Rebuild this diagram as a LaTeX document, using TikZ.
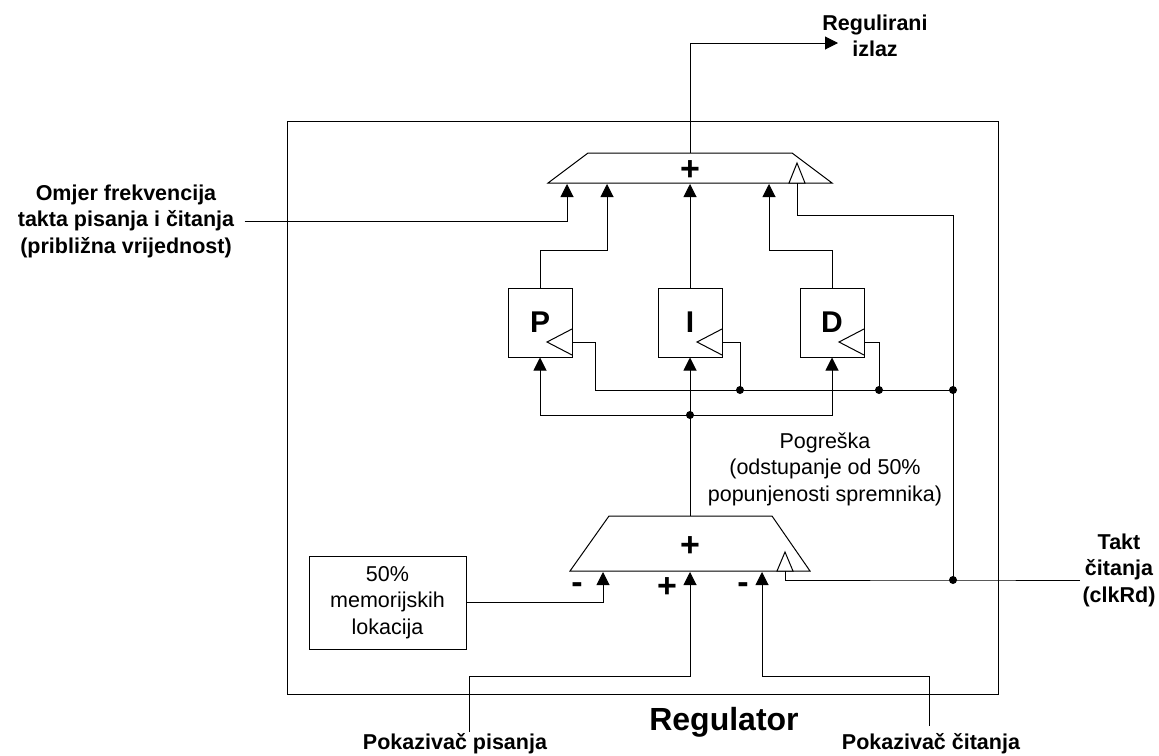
\documentclass[tikz,border=0pt]{standalone}
\usepackage{fontspec}
\setmainfont{Liberation Sans}
\usetikzlibrary{arrows.meta}
\tikzset{
  inarrow/.style={-{Triangle[length=13pt,width=13pt]}},
  regbox/.style={draw, minimum width=64pt, minimum height=69pt, inner sep=0pt,
    font=\fontsize{30}{30}\selectfont\bfseries},
  memobox/.style={draw, minimum width=157pt, minimum height=93pt, inner sep=0pt,
    align=center, font=\fontsize{21.5}{26.5}\selectfont},
  dot/.style={circle, fill, inner sep=0pt, minimum size=8pt},
  lbl/.style={align=center, inner sep=2pt, font=\fontsize{21.5}{26.5}\selectfont\bfseries},
  txt/.style={align=center, inner sep=2pt, font=\fontsize{21.5}{26.5}\selectfont},
  sign/.style={inner sep=0pt, font=\fontsize{34}{34}\selectfont\bfseries},
}
\begin{document}
\begin{tikzpicture}[x=1pt, y=-1pt, line width=1pt]
  \useasboundingbox (0,0) rectangle (1159,755);
  % frame
  \draw (287,121) rectangle (998,694);
  % adders
  \draw (548,183) -- (588,153) -- (792,153) -- (832,183) -- cycle;
  \draw[fill=white] (789,183) -- (797,163) -- (805,183) -- cycle;
  \draw (570,571) -- (609,516) -- (772,516) -- (810,571) -- cycle;
  \draw[fill=white] (777,571) -- (785,552) -- (793,571) -- cycle;
  \node[sign] (plusT) at (690,171) {+};
  \node[sign] (plusB) at (690,547) {+};
  \node[sign] (s1) at (577,588) {-};
  \node[sign] (s2) at (667,588) {+};
  \node[sign] (s3) at (743,588) {-};
  \coordinate (outT) at (690,153);
  \coordinate (inT1) at (567,184);
  \coordinate (inT2) at (607,184);
  \coordinate (inT3) at (690,184);
  \coordinate (inT4) at (769,184);
  \coordinate (ckT) at (797,183);
  \coordinate (outB) at (690,516);
  \coordinate (inB1) at (603,572);
  \coordinate (inB2) at (690,572);
  \coordinate (inB3) at (762,572);
  \coordinate (ckB) at (785,571);
  % P, I, D
  \node[regbox] (P) at (540,322.5) {P};
  \node[regbox] (I) at (690,322.5) {I};
  \node[regbox] (D) at (832,322.5) {D};
  \draw (572,329) -- (547,342) -- (572,355);
  \draw (722,329) -- (697,342) -- (722,355);
  \draw (864,329) -- (839,342) -- (864,355);
  \node[memobox] (mem) at (387.5,602.5) {50\%\\memorijskih\\lokacija};
  % junctions
  \node[dot] (jE) at (690,415) {};
  \node[dot] (jI) at (740,390) {};
  \node[dot] (jD) at (879,390) {};
  \node[dot] (jC) at (953,390) {};
  \node[dot] (jT) at (953,580) {};
  % labels
  \node[lbl] (izlaz) at (875,36) {Regulirani\\izlaz};
  \node[lbl] (omjer) at (126,221) {Omjer frekvencija\\takta pisanja i čitanja\\(približna vrijednost)};
  \node[txt] (greska) at (825,469) {Pogreška\\(odstupanje od 50\%\\popunjenosti spremnika)};
  \node[lbl] (takt) at (1119,570) {Takt\\čitanja\\(clkRd)};
  \node[lbl, anchor=base] (pis) at (455,749) {Pokazivač pisanja};
  \node[lbl, anchor=base] (cit) at (931,749) {Pokazivač čitanja};
  \node[anchor=base, inner sep=0pt, font=\fontsize{32}{32}\selectfont\bfseries] (reg) at (724,730) {Regulator};
  \coordinate (pisIn) at (469,732);
  \coordinate (citIn) at (929,726);
  \coordinate (outEnd) at (838,43);
  % connections
  \draw[inarrow] (outT) |- (outEnd);
  \draw[inarrow] ([xshift=8pt]omjer.east) -| (inT1);
  \draw[inarrow] (P.north) |- (607,250) -- (inT2);
  \draw[inarrow] (I.north) -- (inT3);
  \draw[inarrow] (D.north) |- (769,250) -- (inT4);
  \draw (outB) -- (jE.center);
  \draw[inarrow] (jE.center) -- (I.south);
  \draw[inarrow] (jE.center) -| (P.south);
  \draw[inarrow] (jE.center) -| (D.south);
  \draw (572,342) -| (595,390) -- (jC.center);
  \draw (722,342) -| (jI.center);
  \draw (864,342) -| (jD.center);
  \draw (ckT) |- (953,215) -- (jT.center);
  \draw (jT.center -| takt.west) -- (jT.center) -| (ckB);
  \draw[inarrow] (mem.east) -| (inB1);
  \draw[inarrow] (pisIn) |- (690,676) -- (inB2);
  \draw[inarrow] (citIn) |- (762,676) -- (inB3);
\end{tikzpicture}
\end{document}
